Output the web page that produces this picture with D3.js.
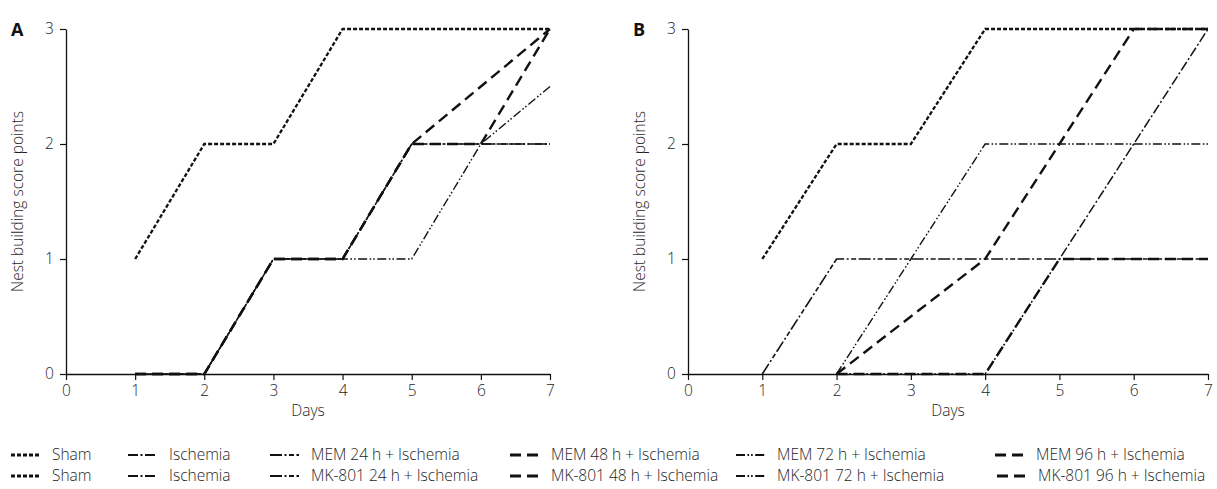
<!DOCTYPE html>
<html>
<head>
<meta charset="utf-8">
<script src="https://cdn.jsdelivr.net/npm/d3@7"></script>
<style>
  body { margin: 0; background: #fff; }
  svg { display: block; font-family: "Open Sans", "Noto Sans", sans-serif; font-weight: 300; }
</style>
</head>
<body>
<svg id="chart" width="1217" height="489"></svg>
<script>
// Days on which nests were scored
const days = [1, 2, 3, 4, 5, 6, 7];
const xTicks = [0, 1, 2, 3, 4, 5, 6, 7];
const yTicks = [0, 1, 2, 3];

// Panel A: memantine (MEM) groups, median score per day (null = not plotted)
const memSham      = [1, 2, 2, 3, 3, 3, 3];
const memIschemia  = [0, 0, 1, 1, 2, 2, 2];
const mem24        = [0, 0, 1, 1, 2, 2, 2];
const mem48        = [0, 0, 1, 1, 2, 2.5, 3];
const mem72        = [0, 0, 1, 1, 1, 2, 2.5];
const mem96        = [0, 0, 1, 1, 2, 2, 3];

// Panel B: MK-801 groups
const mkSham       = [1, 2, 2, 3, 3, 3, 3];
const mkIschemia   = [null, 0, 0, 0, 1, 2, 3];
const mk24         = [0, 1, 1, 1, 1, 1, 1];
const mk48         = [null, 0, 0.5, 1, 2, 3, 3];
const mk72         = [null, 0, 1, 2, 2, 2, 2];
const mk96         = [null, 0, 0, 0, 1, 1, 1];

const legendMem = ["Sham", "Ischemia", "MEM 24 h + Ischemia", "MEM 48 h + Ischemia", "MEM 72 h + Ischemia", "MEM 96 h + Ischemia"];
const legendMk  = ["Sham", "Ischemia", "MK-801 24 h + Ischemia", "MK-801 48 h + Ischemia", "MK-801 72 h + Ischemia", "MK-801 96 h + Ischemia"];

// Stroke style per group (same order as the legends)
const styles = [
  { dash: "4,2",                 width: 2.3 },
  { dash: "10,2.5,2,2.5",        width: 1.5 },
  { dash: "12,2.5,2,2.5,5,2.5",  width: 1.6 },
  { dash: "11,6",                width: 2.4 },
  { dash: "9,2.5,1.6,2,1.6,2.5", width: 1.4 },
  { dash: "11,6",                width: 2.4 }
];

const svg = d3.select("#chart");
const ink = "#111";
const textCol = "#1e1e1e";
const fs = 15.5;

function drawPanel(opts) {
  const { left, right, top, bottom, letter, series } = opts;
  const x = d3.scaleLinear().domain([0, 7]).range([left, right]);
  const y = d3.scaleLinear().domain([0, 3]).range([bottom, top]);
  const g = svg.append("g");

  // axes
  const xAxis = g.append("g").attr("transform", `translate(0,${bottom})`)
    .call(d3.axisBottom(x).tickValues(xTicks).tickFormat(d3.format("d")).tickSize(6).tickSizeOuter(0));
  const yAxis = g.append("g").attr("transform", `translate(${left},0)`)
    .call(d3.axisLeft(y).tickValues(yTicks).tickFormat(d3.format("d")).tickSize(6).tickSizeOuter(0));
  [xAxis, yAxis].forEach(a => {
    a.select(".domain").attr("stroke", ink).attr("stroke-width", 1.3);
    a.selectAll(".tick line").attr("stroke", ink).attr("stroke-width", 1.2);
    a.selectAll(".tick text").attr("fill", textCol).attr("font-size", fs)
      .attr("font-family", "\"Open Sans\", sans-serif").attr("font-weight", 300);
  });
  xAxis.selectAll(".tick text").attr("dy", "0.85em");
  yAxis.selectAll(".tick text").attr("dx", "-0.2em");

  // axis titles
  g.append("text").attr("x", (left + right) / 2).attr("y", bottom + 42)
    .attr("text-anchor", "middle").attr("fill", textCol).attr("font-size", fs).text("Days");
  g.append("text")
    .attr("transform", `translate(${left - 43},${(top + bottom) / 2}) rotate(-90)`)
    .attr("text-anchor", "middle").attr("fill", textCol).attr("font-size", fs)
    .text("Nest building score points");

  // panel letter
  g.append("text").attr("x", left - 55).attr("y", top + 7)
    .attr("font-size", 18).attr("font-weight", "bold").attr("fill", "#111").text(letter);

  const line = d3.line()
    .defined(d => d.v != null)
    .x(d => x(d.day))
    .y(d => y(d.v));

  series.forEach((vals, i) => {
    const pts = vals.map((v, k) => ({ day: days[k], v }));
    g.append("path")
      .datum(pts)
      .attr("d", line)
      .attr("fill", "none")
      .attr("stroke", ink)
      .attr("stroke-width", styles[i].width)
      .attr("stroke-dasharray", styles[i].dash)
      .attr("stroke-linejoin", "miter");
  });
}

drawPanel({
  left: 66, right: 550, top: 29, bottom: 374, letter: "A",
  series: [memSham, memIschemia, mem24, mem48, mem72, mem96]
});
drawPanel({
  left: 688, right: 1208, top: 29, bottom: 374, letter: "B",
  series: [mkSham, mkIschemia, mk24, mk48, mk72, mk96]
});

// legend: two rows, six columns
const colX = [11, 128, 270, 510, 736, 995];
const rowY = [455, 476];
const legend = svg.append("g");
[legendMem, legendMk].forEach((labels, r) => {
  labels.forEach((lab, i) => {
    const x0 = colX[i] + (r === 1 && i === 5 ? 2 : 0);
    legend.append("line")
      .attr("x1", x0).attr("x2", x0 + 29)
      .attr("y1", rowY[r]).attr("y2", rowY[r])
      .attr("stroke", ink)
      .attr("stroke-width", styles[i].width + 0.6)
      .attr("stroke-dasharray", styles[i].dash);
    legend.append("text")
      .attr("x", x0 + 41).attr("y", rowY[r] + 5)
      .attr("fill", textCol).attr("font-size", fs)
      .text(lab);
  });
});
</script>
</body>
</html>
